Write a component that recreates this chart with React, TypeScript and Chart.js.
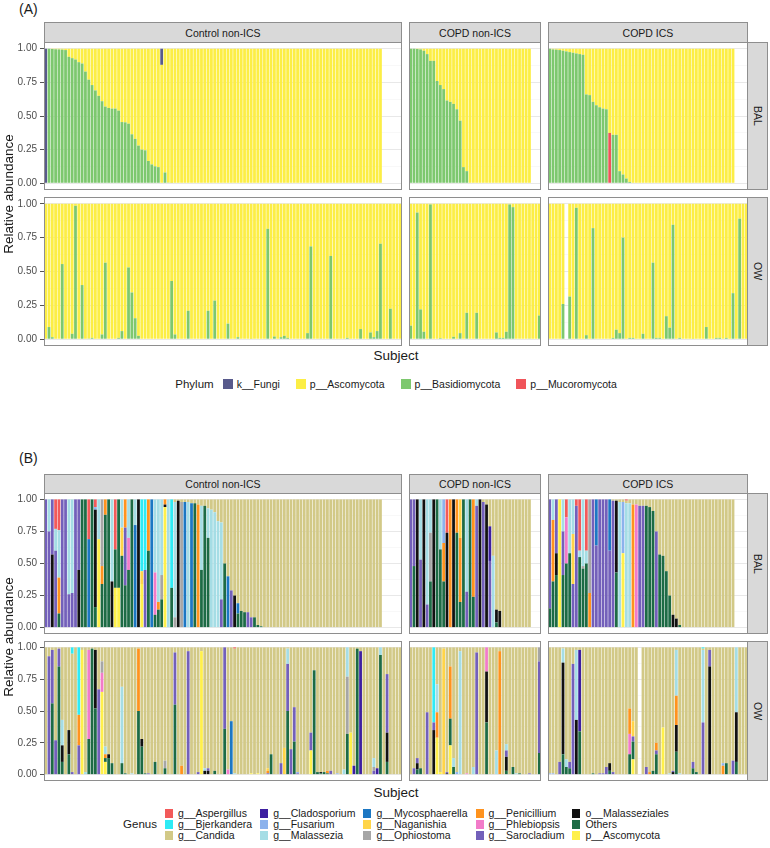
import React, { useEffect, useRef } from "react";
import { Chart, registerables } from "chart.js";
Chart.register(...registerables);

const FONT = '"Liberation Sans", Arial, Helvetica, sans-serif';

// ---------------- shared categories ----------------
const FACETS = ["Control non-ICS", "COPD non-ICS", "COPD ICS"];
const ROWS = ["BAL", "OW"];
const N_SUBJECTS = [108, 40, 60];
const BAL_COUNT = [102, 37, 56];
const Y_TICKS = [0, 0.125, 0.25, 0.375, 0.5, 0.625, 0.75, 0.875, 1];

// ---------------- panel (A): phylum ----------------
const PHYLA = ["k__Fungi", "p__Ascomycota", "p__Basidiomycota", "p__Mucoromycota"];
const PHYLA_COLORS = ["#585A8C", "#FCEE45", "#7DC86E", "#F0545A"];

// BAL, Basidiomycota values of the leading bars (rest 0)
const A_CTRL_BAL_BASIDIO = [0, 1.0, 0.998, 0.996, 0.995, 0.993, 0.99, 0.94, 0.93, 0.92, 0.9, 0.89, 0.83, 0.77, 0.73, 0.69, 0.65, 0.61, 0.57, 0.56, 0.555, 0.555, 0.54, 0.455, 0.453, 0.443, 0.364, 0.33, 0.28, 0.25, 0.245, 0.166, 0.14, 0.126, 0.12, 0, 0.08, 0.005, 0.003];
const A_CTRL_BAL_FUNGI: [number, number][] = [[0, 1.0], [35, 0.12]];
const A_COPDN_BAL_BASIDIO = [1.0, 1.0, 0.998, 0.995, 0.985, 0.96, 0.91, 0.91, 0.76, 0.73, 0.7, 0.615, 0.605, 0.59, 0.55, 0.465, 0.12, 0.09];
const A_COPDI_BAL_BASIDIO = [1.0, 0.995, 0.993, 0.99, 0.985, 0.98, 0.975, 0.97, 0.965, 0.96, 0.955, 0.66, 0.655, 0.605, 0.58, 0.565, 0.555, 0.55, 0, 0.36, 0.36, 0.09, 0.065, 0.035, 0.01];
const A_COPDI_BAL_MUCOR: [number, number][] = [[18, 0.374]];

// OW, Basidiomycota as [subject index, value]
const A_CTRL_OW_BASIDIO: [number, number][] = [[1, 0.09], [2, 0.015], [5, 0.555], [8, 0.04], [9, 0.985], [11, 0.4], [13, 0.005], [14, 0.01], [17, 0.035], [18, 0.565], [22, 0.01], [23, 0.06], [25, 0.53], [26, 0.345], [27, 0.155], [28, 0.025], [38, 0.43], [39, 0.035], [43, 0.21], [49, 0.21], [51, 0.285], [55, 0.115], [58, 0.015], [62, 0.003], [67, 0.815], [69, 0.02], [71, 0.015], [72, 0.025], [73, 0.01], [79, 0.045], [80, 0.685], [83, 0.005], [86, 0.615], [91, 0.01], [95, 0.075], [98, 0.05], [99, 0.015], [100, 0.06], [101, 0.705], [104, 0.225]];
const A_COPDN_OW_BASIDIO: [number, number][] = [[0, 0.1], [2, 0.935], [3, 0.22], [4, 0.055], [6, 0.995], [9, 0.008], [13, 0.018], [15, 0.045], [17, 0.195], [20, 0.195], [26, 0.05], [27, 0.01], [28, 0.01], [29, 0.055], [30, 0.995], [31, 0.975], [36, 0.005], [39, 0.175]];
const A_COPDI_OW_BASIDIO: [number, number][] = [[4, 0.26], [6, 0.315], [8, 0.97], [11, 0.03], [13, 0.82], [19, 0.01], [20, 0.07], [21, 0.045], [22, 0.75], [24, 0.01], [25, 0.01], [28, 0.04], [31, 0.565], [32, 0.01], [33, 0.01], [35, 0.17], [36, 0.085], [37, 0.845], [39, 0.01], [43, 0.003], [47, 0.09], [50, 0.01], [51, 0.01], [53, 0.01], [55, 0.34], [57, 0.89]];
const A_COPDI_OW_MISSING = [5];

// ---------------- panel (B): genus ----------------
const GENUS_CODES = ["As", "Bj", "Ca", "Cl", "Fu", "Ma", "My", "Na", "Op", "Pe", "Ph", "Sa", "Mz", "Ot", "Pa"];
const GENUS_LABELS = ["g__Aspergillus", "g__Bjerkandera", "g__Candida", "g__Cladosporium", "g__Fusarium", "g__Malassezia", "g__Mycosphaerella", "g__Naganishia", "g__Ophiostoma", "g__Penicillium", "g__Phlebiopsis", "g__Sarocladium", "o__Malasseziales", "Others", "p__Ascomycota"];
const GENUS_COLORS = ["#F25A5A", "#2EEBF5", "#D2C987", "#3D1FA0", "#8CB2EC", "#A5DDE5", "#1C77C3", "#FFD448", "#A6A6A6", "#FF931E", "#F27BC9", "#7360BA", "#111111", "#1D6B45", "#FFF04A"];

// BAL bars: non-Candida parts, Candida fills the rest
const B_CTRL_BAL = [
  "Sa:1", "Ma:.25 Sa:.75", "Sa:.43 Mz:.57", "As:.23 Ma:.17 Sa:.6", "As:.24 Ma:.37 Pe:.28 Ot:.11",
  "Sa:1", "Sa:1", "Ma:.74 Sa:.26", "Ma:.73 Sa:.27", "Sa:1",
  "Sa:.55 Mz:.45", "Ot:1", "Ot:1", "As:.31 My:.69", "Ot:1",
  "As:.06 Fu:.02 Mz:.76 Ot:.16", "Ma:.31 Pa:.69", "Op:.52 Pe:.14 Ot:.34", "Pe:.12 Ot:.88", "Ot:1",
  "Ma:.64 Mz:.36", "As:.39 Ot:.3 Pa:.31", "Ot:.69 Pa:.31", "Ma:.22 Na:.22 Ot:.56", "Pe:.22 Sa:.45 Ot:.33",
  "Ma:.3 Ph:.25 Ot:.45", "Ot:1", "Ma:.2 My:.8", "Mz:1", "Bj:.56 Na:.1 Pa:.34",
  "Bj:.55 Sa:.45", "Pe:.4 Ot:.6", "My:1", "Ma:.57 Ph:.33 Ot:.1", "Ma:.8 Pe:.06 Ot:.14",
  "Ma:.59 Op:.19 Ot:.22", "Pe:.04 Mz:.02 Pa:.94", "Ma:1", "Bj:.69 Ot:.31", "Ma:.9 Op:.08",
  "Mz:.99", "Op:.98", "My:.98", "Ma:.98", "My:.97",
  "Ot:.97", "Pe:.96", "Ma:.5 Ot:.45", "Ot:.95", "Ma:.23 Ot:.7",
  "Ma:.92", "Ma:.9", "Ma:.83", "Ma:.6 Sa:.22", "Ot:.5",
  "My:.4", "Sa:.29", "Mz:.25", "My:.08 Ot:.11", "Ot:.13",
  "Ot:.12", "Sa:.12", "Sa:.08", "Ot:.08", "Ot:.02", "Ot:.01",
];
const B_COPDN_BAL = [
  "Sa:1", "Sa:.52 Ot:.48", "Mz:1", "Ma:.47 Sa:.53", "Mz:1",
  "Ma:.82 Sa:.18", "Ma:.26 Op:.38 Ot:.36", "Mz:1", "Ot:1", "Ma:.39 Ot:.61",
  "Fu:.34 Pe:.3 Ot:.36", "As:.26 Mz:.74", "Pe:1", "Mz:1", "Pe:.26 Ot:.74",
  "Na:.3 Pe:.5 Ot:.2", "Ot:1", "Ma:.72 Sa:.28", "Ot:1", "Pe:.76 Ot:.24",
  "Ma:.05 Sa:.95", "Mz:1", "Sa:.98", "Mz:.96", "Cl:.27 Sa:.52",
  "Ma:.56", "Mz:.1 Ot:.04", "Mz:.13",
];
const B_COPDI_BAL = [
  "Sa:.85 Ot:.15", "Ma:.16 Pe:.48 Ot:.36", "Sa:.42 Mz:.17 Ot:.41", "Pa:1", "Ma:.25 Sa:.34 Ot:.41",
  "As:.14 Ph:.36 Ot:.5", "Ma:.42 Ot:.58", "Ma:.27 Na:.39 Sa:.34", "As:.05 Sa:.95", "As:.4 Ma:.05 Ot:.55",
  "Ma:.52 Op:.02 Ot:.46", "As:.4 Ma:.1 Ot:.5", "Op:.73 Pe:.27", "Sa:1", "My:.36 Sa:.64",
  "Sa:1", "Sa:1", "Sa:1", "My:.4 Sa:.6", "Sa:.99",
  "Mz:.56 Ot:.43", "Ma:.98", "Fu:.4 Pa:.58", "As:.01 Ma:.97", "Ma:.97",
  "Pe:.96", "Ph:.96", "Sa:.95", "Sa:.95", "Ot:.95",
  "Ot:.94", "Ot:.91", "Sa:.75", "Ot:.57", "Ot:.56",
  "Ot:.44", "Ot:.25", "Mz:.1", "Mz:.07", "Ot:.02",
];

// OW bars as [subject index, non-Candida parts]
const B_CTRL_OW: [number, string][] = [[1, "Sa:.93"], [2, "Sa:.42 Ot:.56"], [3, "Sa:.27"], [4, "Sa:.14 Ot:.85"], [5, "Ma:.2 Mz:.13 Ot:.1"], [7, "Mz:.19 Ot:.16"], [8, "Bj:.05 Sa:.02"], [10, "Bj:.53 Pe:.24 Sa:.23"], [11, "Pa:.98"], [12, "Ma:.02"], [13, "Ph:.7 Ot:.28"], [14, "Ot:.99"], [15, "Mz:.46 Ot:.52"], [16, "Sa:.67"], [17, "Op:.09 Ph:.15 Pa:.65"], [18, "Ma:.06 Pe:.03 Ot:.03 Pa:.1"], [19, "Mz:.03 Ot:.13"], [20, "Ot:.09"], [23, "Ma:.6 Ot:.09"], [24, "Ot:.01"], [26, "Ma:.01"], [28, "Pe:.49 Ot:.5"], [29, "Mz:.06 Ot:.22"], [30, "Ot:.01"], [31, "Sa:.01"], [33, "Ot:.1"], [36, "Op:.06 Ot:.05"], [39, "Sa:.41 Ot:.55"], [41, "Pe:.07"], [43, "Sa:.97"], [46, "Sa:.02"], [47, "Pa:.97"], [48, "Ma:.02 Mz:.03"], [49, "Mz:.03 Sa:.02"], [51, "Ot:.03"], [54, "Sa:.64 Ot:.36"], [55, "Ph:.04"], [56, "My:.42"], [57, "As:.01 Ma:.01"], [62, "Pa:.01"], [64, "Pa:.01"], [67, "Pe:.02 Na:.02 Sa:.01"], [68, "Ot:.16"], [71, "Sa:.09"], [72, "Na:.21"], [73, "Ma:.12 Sa:.37 Ot:.5"], [74, "Sa:.2"], [75, "Sa:.27 Ot:.26"], [76, "Fu:.01 Sa:.01"], [80, "Sa:.14 Pa:.19"], [81, "Ot:.82"], [82, "Ot:.02"], [83, "Mz:.01 Ot:.01"], [84, "Ot:.02"], [85, "Pe:.02 Ot:.01"], [86, "Sa:.03"], [88, "Fu:.01"], [90, "Ma:.04"], [91, "Ma:.23 Op:.45 Ot:.32"], [92, "Pa:.33"], [93, "Cl:.07"], [94, "Ot:.99"], [95, "Cl:.97"], [99, "Ma:.07 Op:.03 Sa:.03"], [100, "Cl:.05"], [101, "Ma:.06 Ot:.94"], [103, "Sa:.46 Mz:.23 Ot:.1"]];
const B_COPDN_OW: [number, string][] = [[1, "Sa:.05"], [2, "Sa:.04 Mz:.05 Ot:.04"], [3, "Ot:.05"], [5, "Sa:.49"], [7, "Bj:.59 Sa:.06 Mz:.35"], [8, "Ma:.22 Pe:.2 Pa:.29"], [9, "Pa:.02"], [10, "Na:.99"], [11, "Mz:.01 Sa:.01"], [12, "Pe:.41 Ot:.21 Pa:.23"], [13, "Ma:.07 Ot:.06"], [14, "Fu:.02"], [15, "Ma:.97"], [17, "Ph:.01"], [19, "Ma:.06"], [20, "Sa:.96"], [23, "Ph:.19 Mz:.4 Ot:.41"], [26, "Ma:.19"], [27, "Pe:.97"], [29, "Ma:.05 Sa:.05 Mz:.11 Ot:.03"], [31, "Ot:.06"], [32, "Ma:.01"], [33, "Ot:.01"], [36, "Sa:.01"], [39, "Op:.11 Sa:.72 Ot:.17"]];
const B_COPDI_OW: [number, string][] = [[0, "Fu:.01"], [1, "Fu:.01"], [3, "Sa:.1"], [4, "Ma:.11 Mz:.72 Ot:.16"], [5, "Ma:.06 Ot:.06"], [6, "Sa:.05 Ot:.05"], [7, "Sa:.87"], [8, "Ma:.55 Mz:.43"], [9, "Cl:.64 Ot:.34"], [13, "Ot:.01"], [15, "Sa:.01"], [16, "Sa:.01"], [17, "Sa:.06"], [18, "Mz:.06 Ot:.03"], [19, "Sa:.02"], [24, "Pe:.2 Ph:.16 Ot:.16"], [25, "Na:.12 Sa:.04 Ot:.14 Pa:.12"], [29, "Sa:.06"], [30, "Pe:.02"], [31, "Ot:.03"], [32, "Pe:.06 Sa:.03 Ot:.16"], [34, "Pa:.37"], [36, "Ma:.01"], [37, "Mz:.02 Sa:.01"], [38, "Ma:.36 Pe:.23 Mz:.21 Ot:.18"], [39, "Ma:.01"], [43, "Sa:.05 Ot:.05"], [44, "Ot:.02"], [46, "Bj:.01 Ma:.57 Sa:.41"], [48, "Sa:.13 Mz:.85"], [52, "Fu:.02 Pe:.07"], [53, "Ot:.09"], [55, "Sa:.11"], [56, "Ma:.51 Mz:.39 Ot:.1"]];
const B_COPDI_OW_MISSING = [27];

// ---------------- builders ----------------
type DS = { label: string; data: (number | null)[]; backgroundColor: string };

function fromPairs(n: number, pairs: [number, number][]) {
  const a = new Array(n).fill(0);
  pairs.forEach(([i, v]) => (a[i] = v));
  return a;
}
function fromList(n: number, list: number[]) {
  const a = new Array(n).fill(0);
  list.forEach((v, i) => (a[i] = v));
  return a;
}
function presence(n: number, count: number, missing: number[] = []) {
  return Array.from({ length: n }, (_, i) => i < count && !missing.includes(i));
}

function phylumSets(present: boolean[], basidio: number[], fungi: number[], mucor: number[]): DS[] {
  const asco = basidio.map((b, i) => Math.max(0, 1 - b - fungi[i] - mucor[i]));
  const mask = (arr: number[]) => arr.map((v, i) => (present[i] ? v : null));
  const vals = [fungi, asco, basidio, mucor];
  return [3, 2, 1, 0].map((k) => ({ label: PHYLA[k], data: mask(vals[k]), backgroundColor: PHYLA_COLORS[k] }));
}

function parseBar(s: string) {
  const out: Record<string, number> = {};
  let sum = 0;
  s.trim().split(/\s+/).filter(Boolean).forEach((tok) => {
    const [k, v] = tok.split(":");
    out[k] = parseFloat(v);
    sum += parseFloat(v);
  });
  out.Ca = Math.max(0, 1 - sum);
  return out;
}

function genusSets(present: boolean[], bars: string[]): DS[] {
  const parsed = present.map((p, i) => (p ? parseBar(bars[i] || "") : null));
  const order = GENUS_CODES.map((_, k) => k).reverse();
  return order.map((k) => ({
    label: GENUS_LABELS[k],
    data: parsed.map((b) => (b ? b[GENUS_CODES[k]] || 0 : null)),
    backgroundColor: GENUS_COLORS[k],
  }));
}
function owBars(n: number, pairs: [number, string][]) {
  const a = new Array(n).fill("");
  pairs.forEach(([i, s]) => (a[i] = s));
  return a;
}

const N = N_SUBJECTS;
const A_SETS: DS[][][] = [
  [
    phylumSets(presence(N[0], BAL_COUNT[0]), fromList(N[0], A_CTRL_BAL_BASIDIO), fromPairs(N[0], A_CTRL_BAL_FUNGI), fromPairs(N[0], [])),
    phylumSets(presence(N[1], BAL_COUNT[1]), fromList(N[1], A_COPDN_BAL_BASIDIO), fromPairs(N[1], []), fromPairs(N[1], [])),
    phylumSets(presence(N[2], BAL_COUNT[2]), fromList(N[2], A_COPDI_BAL_BASIDIO), fromPairs(N[2], []), fromPairs(N[2], A_COPDI_BAL_MUCOR)),
  ],
  [
    phylumSets(presence(N[0], N[0]), fromPairs(N[0], A_CTRL_OW_BASIDIO), fromPairs(N[0], []), fromPairs(N[0], [])),
    phylumSets(presence(N[1], N[1]), fromPairs(N[1], A_COPDN_OW_BASIDIO), fromPairs(N[1], []), fromPairs(N[1], [])),
    phylumSets(presence(N[2], N[2], A_COPDI_OW_MISSING), fromPairs(N[2], A_COPDI_OW_BASIDIO), fromPairs(N[2], []), fromPairs(N[2], [])),
  ],
];
const B_SETS: DS[][][] = [
  [
    genusSets(presence(N[0], BAL_COUNT[0]), B_CTRL_BAL),
    genusSets(presence(N[1], BAL_COUNT[1]), B_COPDN_BAL),
    genusSets(presence(N[2], BAL_COUNT[2]), B_COPDI_BAL),
  ],
  [
    genusSets(presence(N[0], N[0]), owBars(N[0], B_CTRL_OW)),
    genusSets(presence(N[1], N[1]), owBars(N[1], B_COPDN_OW)),
    genusSets(presence(N[2], N[2], B_COPDI_OW_MISSING), owBars(N[2], B_COPDI_OW)),
  ],
];

// ---------------- layout ----------------
const COL_X: [number, number][] = [[44, 402], [409, 541], [548, 748]];
const SECTIONS = [
  { tag: "(A)", tagY: 0, stripY: 22, rows: [[42, 190], [197, 346]], subjectY: 347, legendY: 377 },
  { tag: "(B)", tagY: 449, stripY: 474, rows: [[493, 634], [641, 781]], subjectY: 784, legendY: 806 },
];
const BORDER = "#8e8e8e";
const isMajor = (v: number) => Math.abs(v * 4 - Math.round(v * 4)) < 1e-9;

function FacetChart(props: { x: number; y: number; w: number; h: number; n: number; datasets: DS[]; showY: boolean }) {
  const { x, y, w, h, n, datasets, showY } = props;
  const ref = useRef<HTMLCanvasElement>(null);
  const axisW = showY ? 44 : 0;
  useEffect(() => {
    const chart = new Chart(ref.current!, {
      type: "bar",
      data: {
        labels: Array.from({ length: n }, (_, i) => `S${i + 1}`),
        datasets: datasets.map((d) => ({ ...d, borderWidth: 0, barPercentage: 0.84, categoryPercentage: 1 })),
      },
      options: {
        animation: false,
        responsive: false,
        maintainAspectRatio: false,
        events: [],
        layout: { padding: 0 },
        plugins: { legend: { display: false }, tooltip: { enabled: false } },
        scales: {
          x: { type: "category", stacked: true, display: false, offset: true, grid: { display: false } },
          y: {
            stacked: true,
            min: -0.05,
            max: 1.05,
            afterBuildTicks: (s: any) => {
              s.ticks = Y_TICKS.map((v) => ({ value: v }));
            },
            afterFit: (s: any) => {
              s.width = axisW;
              s.paddingTop = 0;
              s.paddingBottom = 0;
            },
            border: { display: false },
            grid: {
              color: (c: any) => (isMajor(c.tick?.value ?? 0) ? "#e8e8e8" : "#f3f3f3"),
              lineWidth: (c: any) => (isMajor(c.tick?.value ?? 0) ? 1 : 0.6),
              drawTicks: showY,
              tickLength: 4,
              tickColor: (c: any) => (isMajor(c.tick?.value ?? 0) ? "#555555" : "rgba(0,0,0,0)"),
            },
            ticks: {
              display: showY,
              autoSkip: false,
              padding: 3,
              color: "#4d4d4d",
              font: { family: FONT, size: 10 },
              callback: (v: any) => (isMajor(Number(v)) ? Number(v).toFixed(2) : ""),
            },
          },
        },
      } as any,
    });
    return () => chart.destroy();
  }, []);
  return (
    <canvas
      ref={ref}
      width={w + axisW}
      height={h}
      style={{ position: "absolute", left: x - axisW, top: y, width: w + axisW, height: h }}
    />
  );
}

const abs = (l: number, t: number, w: number, h: number): React.CSSProperties => ({
  position: "absolute", left: l, top: t, width: w, height: h, boxSizing: "border-box",
});

function Section(props: { idx: number; sets: DS[][][] }) {
  const sec = SECTIONS[props.idx];
  const els: React.ReactNode[] = [];
  els.push(
    <div key="tag" style={{ ...abs(19, sec.tagY, 40, 18), fontFamily: FONT, fontSize: 14, color: "#1a1a1a", lineHeight: "18px" }}>{sec.tag}</div>
  );
  COL_X.forEach(([x0, x1], c) => {
    els.push(
      <div key={`st${c}`} style={{ ...abs(x0, sec.stripY, x1 - x0, sec.rows[0][0] - sec.stripY + 1), background: "#d9d9d9", border: `1px solid ${BORDER}`, display: "flex", alignItems: "center", justifyContent: "center", fontFamily: FONT, fontSize: 10.5, color: "#1a1a1a" }}>{FACETS[c]}</div>
    );
    sec.rows.forEach(([y0, y1], r) => {
      els.push(
        <FacetChart key={`ch${r}${c}`} x={x0} y={y0} w={x1 - x0} h={y1 - y0} n={N_SUBJECTS[c]} datasets={props.sets[r][c]} showY={c === 0} />
      );
      els.push(<div key={`bd${r}${c}`} style={{ ...abs(x0, y0, x1 - x0, y1 - y0), border: `1px solid ${BORDER}`, pointerEvents: "none" }} />);
    });
  });
  sec.rows.forEach(([y0, y1], r) => {
    els.push(
      <div key={`rs${r}`} style={{ ...abs(747, y0, 21, y1 - y0), background: "#d9d9d9", border: `1px solid ${BORDER}`, display: "flex", alignItems: "center", justifyContent: "center", fontFamily: FONT, fontSize: 10.5, color: "#1a1a1a" }}>
        <span style={{ writingMode: "vertical-rl" }}>{ROWS[r]}</span>
      </div>
    );
  });
  const midY = (sec.rows[0][0] + sec.rows[1][1]) / 2;
  els.push(
    <div key="ytitle" style={{ position: "absolute", left: 9 - 100, top: midY - 9, width: 200, height: 18, textAlign: "center", transform: "rotate(-90deg)", fontFamily: FONT, fontSize: 13.5, color: "#1a1a1a", lineHeight: "18px" }}>Relative abundance</div>
  );
  els.push(
    <div key="xtitle" style={{ position: "absolute", left: 296, top: sec.subjectY, width: 200, height: 18, textAlign: "center", fontFamily: FONT, fontSize: 13.5, color: "#1a1a1a", lineHeight: "18px" }}>Subject</div>
  );
  return <>{els}</>;
}

function LegendA() {
  return (
    <div style={{ position: "absolute", left: 0, top: SECTIONS[0].legendY, width: 792, height: 14, display: "flex", justifyContent: "center", alignItems: "center", fontFamily: FONT, color: "#1a1a1a" }}>
      <span style={{ fontSize: 11.5, marginRight: 9 }}>Phylum</span>
      {PHYLA.map((p, i) => (
        <span key={p} style={{ display: "flex", alignItems: "center", marginRight: i < PHYLA.length - 1 ? 16 : 0 }}>
          <span style={{ width: 10, height: 10, background: PHYLA_COLORS[i], display: "inline-block", marginRight: 4 }} />
          <span style={{ fontSize: 10.5 }}>{p}</span>
        </span>
      ))}
    </div>
  );
}

function LegendB() {
  return (
    <div style={{ position: "absolute", left: 0, top: SECTIONS[1].legendY, width: 792, height: 36, display: "flex", justifyContent: "center", alignItems: "center", fontFamily: FONT, color: "#1a1a1a" }}>
      <span style={{ fontSize: 11.5, marginRight: 8 }}>Genus</span>
      <div style={{ display: "grid", gridAutoFlow: "column", gridTemplateRows: "repeat(3, 11px)", columnGap: 8 }}>
        {GENUS_LABELS.map((g, i) => (
          <span key={g} style={{ display: "flex", alignItems: "center", height: 11 }}>
            <span style={{ width: 8, height: 9, background: GENUS_COLORS[i], display: "inline-block", marginRight: 5 }} />
            <span style={{ fontSize: 10.5, lineHeight: "11px", whiteSpace: "nowrap" }}>{g}</span>
          </span>
        ))}
      </div>
    </div>
  );
}

export default function App() {
  return (
    <div style={{ position: "absolute", left: 0, top: 0, width: 770, height: 848, background: "#ffffff", overflow: "hidden" }}>
      <Section idx={0} sets={A_SETS} />
      <LegendA />
      <Section idx={1} sets={B_SETS} />
      <LegendB />
    </div>
  );
}
